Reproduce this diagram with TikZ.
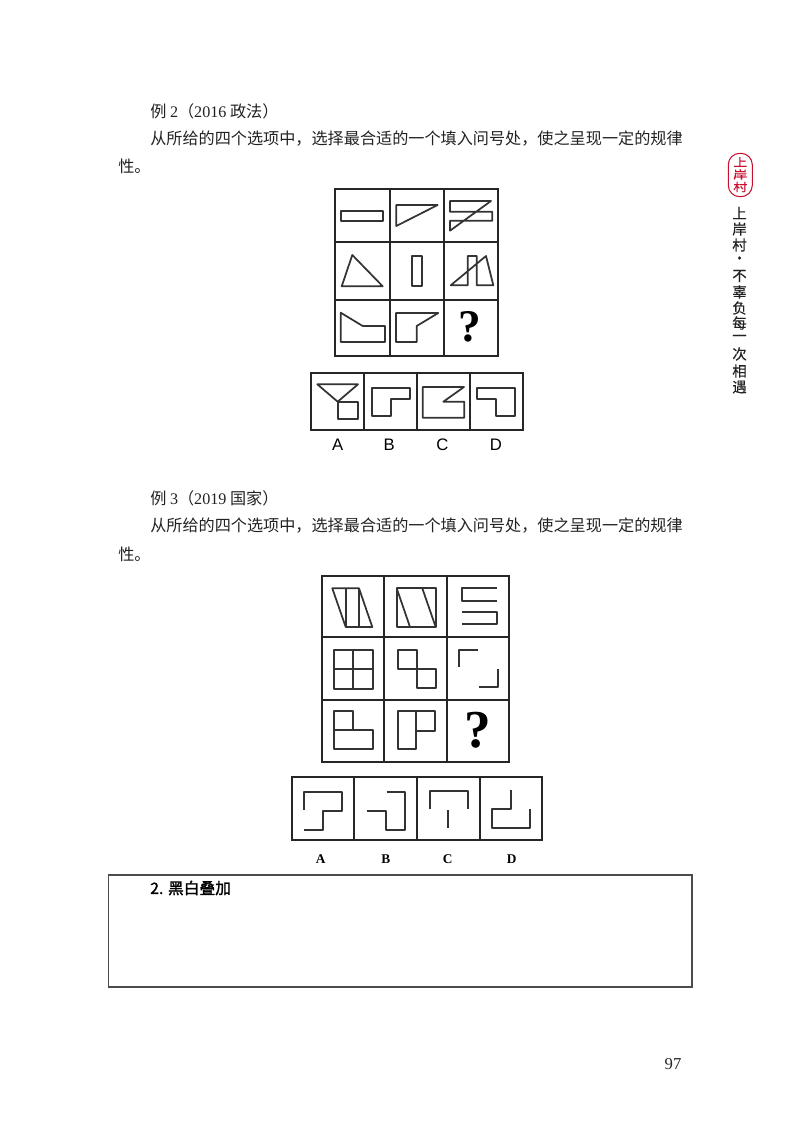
\documentclass[tikz,border=0pt]{standalone}
\usepackage{fontspec}
\setmainfont{Liberation Serif}
\setsansfont{Liberation Sans}
\newfontfamily\cjk{Noto Sans CJK SC}
\newfontfamily\cjkbold[FakeBold=1.5]{Noto Sans CJK SC}
\newfontfamily\cjkside[FakeBold=0.4]{Noto Sans CJK SC}
\definecolor{inkgrey}{HTML}{222222}
\definecolor{sealred}{HTML}{C8102E}
\tikzset{
	grid line/.style={line width=1.4pt, black!85},
	fig line/.style={line width=1.3pt, black!80, line join=round},
	body text/.style={anchor=west, inner sep=0pt, text=inkgrey, font=\fontsize{12.1}{12.1}\selectfont\cjk},
	side text/.style={inner sep=0pt, text=inkgrey, font=\fontsize{10.8}{10.8}\selectfont\cjkside},
	seal text/.style={inner sep=0pt, text=sealred, yscale=0.8, transform shape, font=\fontsize{10.5}{10.5}\selectfont\cjkside},
	option a/.style={inner sep=0pt, font=\sffamily\fontsize{12.5}{12.5}\selectfont},
	option b/.style={inner sep=0pt, font=\bfseries\fontsize{10}{10}\selectfont},
}
\newcommand{\board}[8] % x0 x1 x2 x3, y0 y1 y2 y3 in px
{
	\draw[grid line] (#1,#5) rectangle (#4,#8);
	\draw[grid line] (#2,#5) -- (#2,#8);
	\draw[grid line] (#3,#5) -- (#3,#8);
	\draw[grid line] (#1,#6) -- (#4,#6);
	\draw[grid line] (#1,#7) -- (#4,#7);
}
\newcommand{\strip}[7] % x0 x1 x2 x3 x4, top, bottom
{
	\draw[grid line] (#1,#6) rectangle (#5,#7);
	\draw[grid line] (#2,#6) -- (#2,#7);
	\draw[grid line] (#3,#6) -- (#3,#7);
	\draw[grid line] (#4,#6) -- (#4,#7);
}
\begin{document}
\begin{tikzpicture}[x=0.75pt, y=-0.75pt]
	\useasboundingbox (0,0) rectangle (800,1130);
	% text of example 2
	\node[body text] (ex2title) at (150,111) {例 {\rmfamily 2}（{\rmfamily 2016} 政法）};
	\node[body text] (ex2line) at (150,139) {从所给的四个选项中，选择最合适的一个填入问号处，使之呈现一定的规律};
	\node[body text] (ex2end) at (118,166) {性。};

	% example 2: board
	\board{335}{390}{444}{498}{189}{242}{300}{356}
	\draw[fig line] (341.3,210.7) rectangle (383.3,220.7);
	\draw[fig line] (396.3,205) -- (437.7,205) -- (396.3,226) -- cycle;
	\draw[fig line] (450,201) -- (491,201) -- (450,230.7) -- (450,220.7) -- (492.3,220.7) -- (492.3,211.7) -- (450,211.7) -- cycle;
	\draw[fig line] (352.3,255) -- (382.7,286.3) -- (341.7,286.3) -- cycle;
	\draw[fig line] (411.7,255.7) rectangle (421.7,286.3);
	\draw[fig line] (467.7,256) -- (476.7,256) -- (476.7,285.3) -- (493.3,285.3) -- (486,256) -- (450.7,285.3) -- (467.7,285.3) -- cycle;
	\draw[fig line] (340.7,312.7) -- (362.7,326) -- (385,326) -- (385,342) -- (340.7,342) -- cycle;
	\draw[fig line] (396,313) -- (438.3,313) -- (416.7,326) -- (416.7,342) -- (396,342) -- cycle;
	\node[inner sep=0pt, font=\bfseries\fontsize{34}{34}\selectfont] (ex2mark) at (470,327) {?};

	% example 2: options
	\strip{311}{363.7}{416.7}{470}{523}{373}{430}
	\draw[fig line] (317.3,384.3) -- (358,384.3) -- (337.7,401.7) -- cycle;
	\draw[fig line] (337.7,401.7) rectangle (358.3,419);
	\draw[fig line] (371.7,387.7) -- (410,387.7) -- (410,399.3) -- (391,399.3) -- (391,416.3) -- (371.7,416.3) -- cycle;
	\draw[fig line] (422.7,387) -- (464,387) -- (443.3,401.7) -- (464.3,401.7) -- (464.3,417.7) -- (422.7,417.7) -- cycle;
	\draw[fig line] (476.7,387.7) -- (515.3,387.7) -- (515.3,416.3) -- (496,416.3) -- (496,399.3) -- (476.7,399.3) -- cycle;
	\node[option a] (ex2a) at (337.7,444.3) {A};
	\node[option a] (ex2b) at (389.3,444.3) {B};
	\node[option a] (ex2c) at (442.3,444.3) {C};
	\node[option a] (ex2d) at (496,444.3) {D};

	% text of example 3
	\node[body text] (ex3title) at (150,498) {例 {\rmfamily 3}（{\rmfamily 2019} 国家）};
	\node[body text] (ex3line) at (150,526) {从所给的四个选项中，选择最合适的一个填入问号处，使之呈现一定的规律};
	\node[body text] (ex3end) at (118,554) {性。};

	% example 3: board
	\board{322.3}{384}{447.3}{509.3}{575.7}{637.3}{699.7}{761.7}
	\draw[fig line] (332.3,588.3) -- (359,588.3) -- (372.3,627) -- (345.7,627) -- cycle;
	\draw[fig line] (345.7,588.3) -- (345.7,627);
	\draw[fig line] (359,588.3) -- (359,627);
	\draw[fig line] (396.7,588.3) rectangle (435.7,627);
	\draw[fig line] (396.7,588.3) -- (410,627);
	\draw[fig line] (422.3,588.3) -- (435.7,627);
	\draw[fig line] (496.7,588.3) -- (461.7,588.3) -- (461.7,600.7) -- (496.7,600.7);
	\draw[fig line] (461.7,611.7) -- (496.7,611.7) -- (496.7,624.3) -- (461.7,624.3);
	\draw[fig line] (334,649.7) rectangle (372.7,688.7);
	\draw[fig line] (353.3,649.7) -- (353.3,688.7);
	\draw[fig line] (334,669.3) -- (372.7,669.3);
	\draw[fig line] (397.7,649.7) rectangle (416.7,669);
	\draw[fig line] (416.7,669) rectangle (436,687.7);
	\draw[fig line] (459,667.3) -- (459,649.7) -- (478,649.7);
	\draw[fig line] (498.3,669) -- (498.3,687) -- (479,687);
	\draw[fig line] (334,711) -- (353.3,711) -- (353.3,730) -- (372.7,730) -- (372.7,749) -- (334,749) -- cycle;
	\draw[fig line] (334,730) -- (353.3,730);
	\draw[fig line] (397.7,711) rectangle (416,749.3);
	\draw[fig line] (416,711) -- (435,711) -- (435,730.7) -- (416,730.7);
	\node[inner sep=0pt, font=\bfseries\fontsize{40}{40}\selectfont] (ex3mark) at (477.7,730) {?};

	% example 3: options
	\strip{291.7}{354.3}{417}{480}{542.3}{776.7}{840}
	\draw[fig line] (304,810) -- (304,792.3) -- (342.3,792.3) -- (342.3,811) -- (322.7,811) -- (322.7,830) -- (304.3,830);
	\draw[fig line] (386.7,791.7) -- (405,791.7) -- (405,830) -- (386,830) -- (386,810.7) -- (367.3,810.7);
	\draw[fig line] (430,809.3) -- (430,791) -- (468.3,791) -- (468.3,809.3);
	\draw[fig line] (448.3,810) -- (448.3,828.3);
	\draw[fig line] (510.7,790) -- (510.7,809) -- (491.7,809) -- (491.7,827.7) -- (530,827.7) -- (530,809.3);
	\node[option b] (ex3a) at (320.7,859) {A};
	\node[option b] (ex3b) at (385.7,859) {B};
	\node[option b] (ex3c) at (447.7,859) {C};
	\node[option b] (ex3d) at (511.7,859) {D};

	% box at the foot
	\draw[line width=0.85pt, black!70] (108.3,875) rectangle (692,987);
	\node[anchor=west, inner sep=0pt, font=\fontsize{11.8}{11.8}\selectfont\cjkbold] (boxtitle) at (150,888) {2. 黑白叠加};
	\node[inner sep=0pt, text=inkgrey, font=\fontsize{12.5}{12.5}\selectfont] (pagenum) at (673,1064) {97};

	% seal and side text
	\draw[sealred, line width=0.8pt, rounded corners=8.6pt] (728.3,153.3) rectangle (752.3,196.7);
	\node[seal text] (sealtop) at (740.3,162) {上};
	\node[seal text] (sealmid) at (740.3,174.5) {岸};
	\node[seal text] (sealend) at (740.3,187) {村};
	\foreach \ch/\y in {上/213, 岸/229, 村/245, ·/260, 不/276, 辜/292, 负/308, 每/323, 一/338, 次/354, 相/371, 遇/387}
		\node[side text] (side\y) at (739.5,\y) {\ch};
	\end{tikzpicture}
\end{document}
